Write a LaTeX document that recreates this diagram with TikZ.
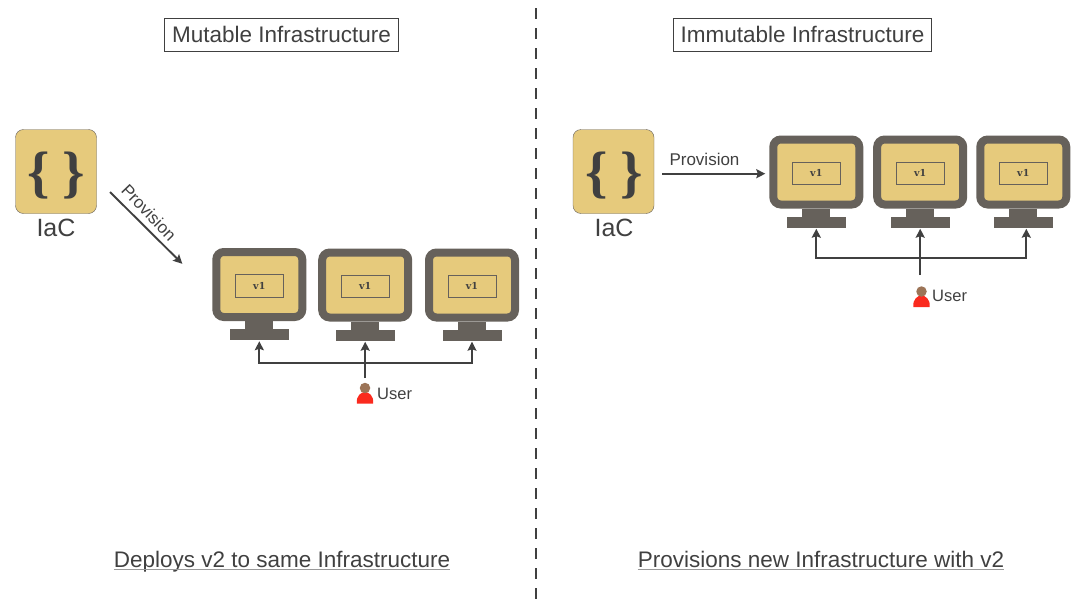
\documentclass[tikz,border=0pt]{standalone}
\usepackage{fontspec}
\setmainfont{Liberation Sans}
\newfontfamily\serifbold{Liberation Serif}
\newfontfamily\tagfont{DejaVu Serif}
\usetikzlibrary{arrows.meta}
\definecolor{sand}{HTML}{E6CA7C}
\definecolor{frame}{HTML}{66615B}
\definecolor{ink}{HTML}{404040}
\definecolor{bodyred}{HTML}{FA2A1E}
\definecolor{headbrown}{HTML}{9C7457}
\tikzset{
	title/.style={draw=ink,inner sep=0pt,minimum height=33.5pt,text=ink,font=\fontsize{22.5}{26}\selectfont},
	caption/.style={text=ink,inner sep=0pt,anchor=base,font=\fontsize{22.5}{25}\selectfont},
	rulebelow/.style={draw=gray!80,line width=1.5pt},
	plain/.style={text=ink,inner sep=0pt,font=\fontsize{16.5}{18}\selectfont},
	prov/.style={text=ink,inner sep=0pt,font=\fontsize{17}{18}\selectfont},
	iac/.style={draw=frame,fill=sand,rounded corners=8pt,minimum width=81pt,minimum height=84pt,inner sep=0pt},
	iactext/.style={text=ink,inner sep=0pt,font=\fontsize{25}{26}\selectfont},
	brace/.style={text=ink,inner sep=0pt,font=\serifbold\bfseries\fontsize{57}{57}\selectfont},
	screen/.style={draw=frame,line width=8pt,fill=sand,rounded corners=7.5pt,minimum width=86pt,minimum height=65pt,inner sep=0pt},
	tag/.style={draw=frame,minimum width=48pt,minimum height=22.5pt,inner sep=0pt,font=\tagfont\bfseries\fontsize{9.5}{11}\selectfont,text=ink},
	foot/.style={fill=frame,minimum width=28pt,minimum height=9pt,inner sep=0pt},
	base/.style={fill=frame,minimum width=59pt,minimum height=11pt,inner sep=0pt},
	conn/.style={draw=ink,line width=1.9pt,shorten >=1pt,-{Stealth[length=9pt,width=9pt,inset=1.5pt]}}
}
% one monitor: name, x, y of screen centre
\newcommand{\monitor}[3]{
	\node[screen] (#1) at (#2,#3) {};
	\node[tag] (#1tag) at (#2,#3+1) {v1};
	\node[foot] (#1foot) at (#2,#3+41) {};
	\node[base] (#1base) at (#2,#3+50) {};
}
% user icon: name, x, y
\newcommand{\usericon}[3]{
	\fill[bodyred] (#2-8.2,#3+10.5) .. controls (#2-9,#3+3) and (#2-4,#3-1) .. (#2,#3-1) .. controls (#2+4,#3-1) and (#2+9,#3+3) .. (#2+8.2,#3+10.5) -- cycle;
	\node[circle,fill=headbrown,minimum size=10.5pt,inner sep=0pt] (#1) at (#2,#3-5) {};
}
\begin{document}
\begin{tikzpicture}[x=1pt,y=-1pt]
	\useasboundingbox (0,0) rectangle (1080,608);

	% divider
	\coordinate (top) at (536,8);
	\coordinate (bottom) at (536,606);
	\draw[ink,line width=1.5pt,dash pattern=on 10.5pt off 9.5pt] (top) -- (bottom);

	% titles
	\node[title,minimum width=234pt] (mutable) at (281.5,34.5) {Mutable Infrastructure};
	\node[title,minimum width=258pt] (immutable) at (802.5,34.5) {Immutable Infrastructure};

	% left side
	\node[iac] (iacl) at (56,171.5) {};
	\node[brace] (bracela) at (38.5,176) {\{};
	\node[brace] (bracelb) at (73.5,176) {\}};
	\node[iactext] (iaclabel) at (56,227.5) {IaC};

	\monitor{ma}{259.3}{284.5}
	\monitor{mb}{365.2}{285}
	\monitor{mc}{472}{285}

	\coordinate (provla) at (110,192);
	\coordinate (provlb) at (183,264.5);
	\draw[conn] (provla) -- (provlb);
	\node[prov,rotate=-46] (provltext) at (149,212.5) {Provision};

	\usericon{ul}{365}{393}
	\node[plain,anchor=west] (userl) at (377,394) {User};
	\coordinate (ulup) at (365.2,378);
	\coordinate (ulmid) at (365.2,363);
	\draw[conn] (ulup) -- (mbbase.south);
	\draw[conn] (ulmid) -| (mabase.south);
	\draw[conn] (ulmid) -| (mcbase.south);

	% right side
	\node[iac] (iacr) at (613.5,171.5) {};
	\node[brace] (bracera) at (596.5,176) {\{};
	\node[brace] (bracerb) at (631.5,176) {\}};
	\node[iactext] (iaclabelr) at (614,227.5) {IaC};

	\monitor{md}{816.3}{172}
	\monitor{me}{920.2}{172}
	\monitor{mf}{1023.3}{172}

	\coordinate (provra) at (662,173.7);
	\node[prov] (provrtext) at (704.5,159) {Provision};
	\draw[conn,shorten >=4pt] (provra) -- (provra -| md.west);

	\usericon{ur}{921.5}{296.5}
	\node[plain,anchor=west] (userr) at (932,296) {User};
	\coordinate (urup) at (920.2,275);
	\coordinate (urmid) at (920.2,257.7);
	\draw[conn] (urup) -- (mebase.south);
	\draw[conn] (urmid) -| (mdbase.south);
	\draw[conn] (urmid) -| ([xshift=3pt]mfbase.south);

	% captions
	\node[caption] (capl) at (282,567.5) {Deploys v2 to same Infrastructure};
	\node[caption] (capr) at (821,567.5) {Provisions new Infrastructure with v2};
	\draw[rulebelow] ([yshift=-2pt]capl.base west) -- ([yshift=-2pt]capl.base east);
	\draw[rulebelow] ([yshift=-2pt]capr.base west) -- ([yshift=-2pt]capr.base east);
\end{tikzpicture}
\end{document}
